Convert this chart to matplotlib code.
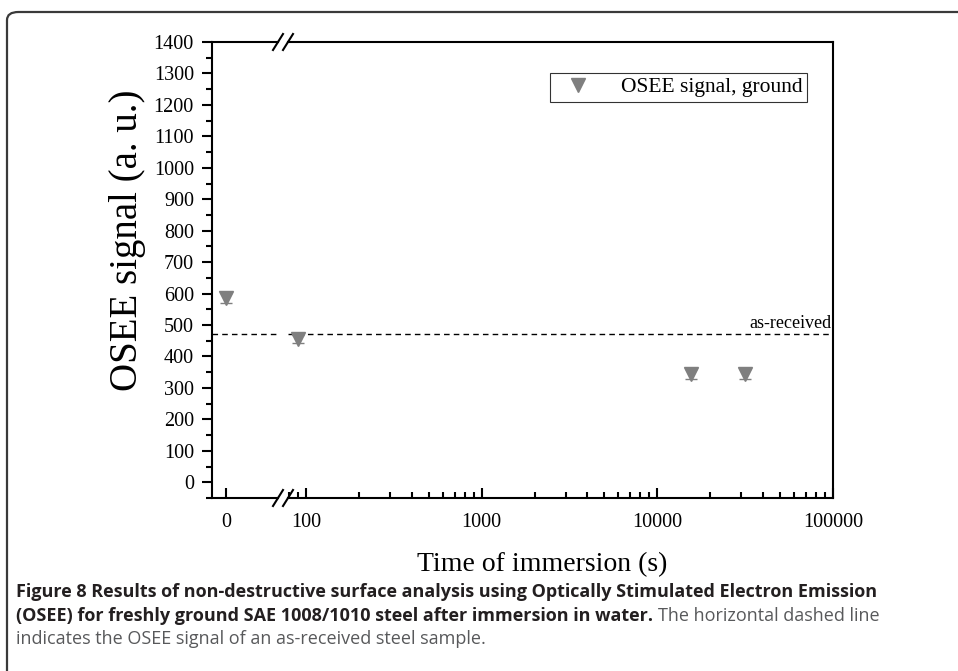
import matplotlib
matplotlib.use("Agg")
import matplotlib.pyplot as plt
from matplotlib.lines import Line2D
from matplotlib.patches import FancyBboxPatch
from matplotlib import font_manager

# data
t_zero = [0]
osee_zero = [585]
err_zero = [16]
t_log = [90, 15500, 31500]
osee_log = [455, 345, 345]
err_log = [13, 16, 16]
as_received = 470

y_ticks = list(range(0, 1500, 100))
x_log_ticks = [100, 1000, 10000, 100000]
x_log_labels = ["100", "1000", "10000", "100000"]

W, H = 958, 671
fig = plt.figure(figsize=(W / 100, H / 100), dpi=100)

serif = "Liberation Serif"
try:
    font_manager.findfont("Liberation Sans Narrow", fallback_to_default=False)
    cap_font = "Liberation Sans Narrow"
except Exception:
    cap_font = "Open Sans"

def fx(px):
    return px / W

def fy(py):
    return 1 - py / H

# outer frame with rounded corner
frame = FancyBboxPatch((fx(7), fy(700)), fx(1000), fy(12) - fy(700),
                       boxstyle="round,pad=0,rounding_size=0.012",
                       transform=fig.transFigure, fill=False,
                       ec="#3a3a3a", lw=1.6)
fig.patches.append(frame)

bot, top = 498, 42
ax1 = fig.add_axes([fx(212), fy(bot), fx(278) - fx(212), fy(top) - fy(bot)])
ax2 = fig.add_axes([fx(288), fy(bot), fx(833) - fx(288), fy(top) - fy(bot)])

grey = "#7f7f7f"
for ax in (ax1, ax2):
    ax.set_ylim(-50, 1400)
    for s in ax.spines.values():
        s.set_linewidth(1.5)
    ax.axhline(as_received, color="black", lw=1.0, ls=(0, (4, 3)))

ax1.set_xlim(-14, 52)
ax1.spines["right"].set_visible(False)
ax1.set_xticks([0])
ax1.set_xticklabels(["0"])
ax1.set_yticks(y_ticks)
ax1.set_yticks(range(-50, 1400, 50), minor=True)
ax1.tick_params(axis="y", which="major", direction="out", length=7, width=1.5,
                labelsize=14.5, pad=6)
ax1.tick_params(axis="y", which="minor", direction="out", length=4, width=1.5)
ax1.tick_params(axis="x", which="major", direction="in", length=7, width=1.5,
                labelsize=14.5, pad=11)
ax1.errorbar(t_zero, osee_zero, yerr=err_zero, fmt="v", color=grey,
             ecolor=grey, markersize=10, capsize=4, elinewidth=1.2,
             clip_on=False)

ax2.set_xscale("log")
ax2.set_xlim(78.9, 100000)
ax2.spines["left"].set_visible(False)
ax2.set_xticks(x_log_ticks)
ax2.set_xticklabels(x_log_labels)
ax2.tick_params(axis="x", which="major", direction="in", length=7, width=1.5,
                labelsize=14.5, pad=11)
ax2.tick_params(axis="x", which="minor", direction="in", length=4, width=1.5)
ax2.tick_params(axis="y", which="both", left=False, labelleft=False,
                right=False)
ax2.errorbar(t_log, osee_log, yerr=err_log, fmt="v", color=grey, ecolor=grey,
             markersize=10, capsize=4, elinewidth=1.2)
ax2.text(98000, as_received + 8, "as-received", ha="right", va="bottom",
         fontsize=13, family=serif)

for ax in (ax1, ax2):
    for lab in ax.get_xticklabels() + ax.get_yticklabels():
        lab.set_family(serif)

handle = Line2D([], [], ls="none", marker="v", color=grey, markersize=10)
leg = fig.legend([handle], ["OSEE signal, ground"], loc="upper right",
                 bbox_to_anchor=(fx(807), fy(73)), frameon=True, fancybox=False,
                 prop={"family": serif, "size": 15.5}, borderpad=0.2,
                 handletextpad=0.9, handlelength=2.2, borderaxespad=0)
leg.get_frame().set_edgecolor("black")
leg.get_frame().set_linewidth(0.8)

# axis break marks
for yb in (top, bot):
    for xb in (278, 288):
        fig.add_artist(Line2D([fx(xb - 5), fx(xb + 5)], [fy(yb + 8), fy(yb - 8)],
                              transform=fig.transFigure, color="black", lw=1.5))

fig.text(fx(128), fy(240), "OSEE signal (a. u.)", rotation=90, ha="center",
         va="center", fontsize=28, family=serif)
fig.text(fx(542), fy(565), "Time of immersion (s)", ha="center", va="center",
         fontsize=20, family=serif)

# caption
bold_c = "#231f20"
norm_c = "#58595b"
cs = 13
fig.text(fx(16), fy(592), "Figure 8 Results of non-destructive surface analysis using "
         "Optically Stimulated Electron Emission", ha="left", va="center",
         fontsize=cs, family=cap_font, weight="bold", color=bold_c)
t2 = fig.text(fx(16), fy(616), "(OSEE) for freshly ground SAE 1008/1010 steel after "
              "immersion in water.", ha="left", va="center", fontsize=cs,
              family=cap_font, weight="bold", color=bold_c)
fig.canvas.draw()
bb = t2.get_window_extent()
fig.text(bb.x1 / W + fx(5), fy(616), "The horizontal dashed line", ha="left",
         va="center", fontsize=cs, family=cap_font, color=norm_c)
fig.text(fx(16), fy(639), "indicates the OSEE signal of an as-received steel sample.",
         ha="left", va="center", fontsize=cs, family=cap_font, color=norm_c)

fig.savefig("out.png", dpi=100)
